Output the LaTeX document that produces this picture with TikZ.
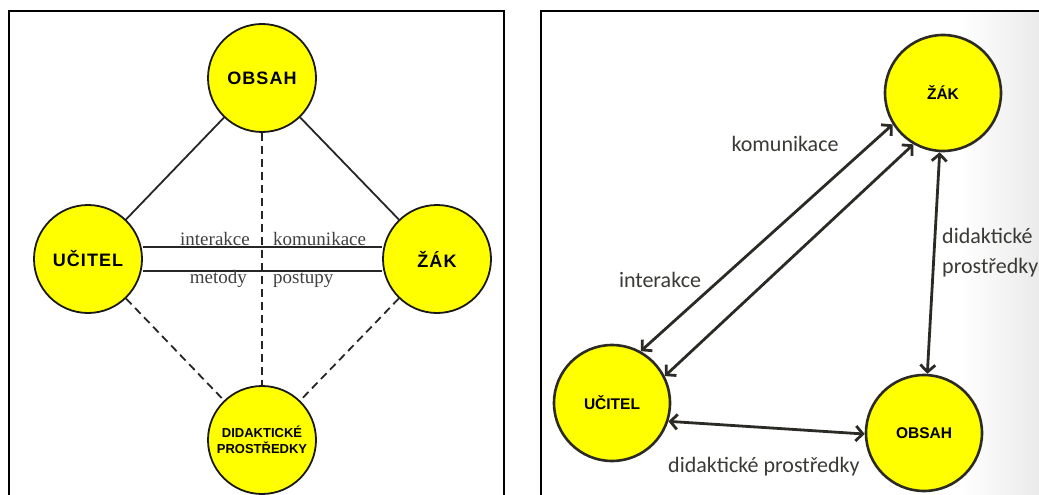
\documentclass[tikz,border=0pt]{standalone}
\usepackage{fontspec}
\setmainfont{Liberation Serif}
\newfontfamily\arialfont{Liberation Sans}
\newfontfamily\arialwide[LetterSpace=6]{Liberation Sans}
\newfontfamily\calibrifont{Carlito}
\usetikzlibrary{arrows.meta,backgrounds}
\definecolor{myYellow}{HTML}{FFFF00}
\definecolor{myDark}{HTML}{2B2A24}
\definecolor{myText}{HTML}{3A3A36}
\tikzset{
    role/.style={draw=black!90,fill=myYellow,circle,line width=1.8pt,inner sep=0pt,
        minimum size=108pt,font=\arialwide\bfseries\fontsize{18}{18}\selectfont},
    roleR/.style={role,draw=myDark,line width=2.6pt,minimum size=116pt,
        font=\arialfont\bfseries\fontsize{15.5}{16}\selectfont},
    link/.style={line width=1.8pt,draw=black!85},
    dashlink/.style={link,dash pattern=on 8pt off 5pt},
    twoway/.style={draw=myDark,line width=2.8pt,
        {Straight Barb[length=7pt,width=15pt]}-{Straight Barb[length=7pt,width=15pt]}},
    serifLabel/.style={font=\fontsize{19}{19}\selectfont,inner sep=0pt,text=black!75},
    sansLabel/.style={font=\calibrifont\fontsize{22}{30}\selectfont,text=myText,inner sep=0pt},
}
\begin{document}
\begin{tikzpicture}[x=1pt,y=-1pt]
    \useasboundingbox (0,0) rectangle (1039,495);
    % shadow at the right edge
    \shade[left color=white,right color=black!8] (960,12) rectangle (1039,495);

    % panel frames
    \draw[line width=1.6pt] (9,495) -- (9,11) -- (504,11) -- (504,495);
    \draw[line width=1.6pt] (541,495) -- (541,11) -- (1039,11);

    % left panel: circles
    \node[role] (obsL) at (262,78) {OBSAH};
    \node[role] (ucL) at (88,259) {UČITEL};
    \node[role] (zakL) at (437,259) {ŽÁK};
    \node[role,align=center,font=\arialfont\bfseries\fontsize{13}{16}\selectfont] (didL) at (262,440) {DIDAKTICKÉ\\PROSTŘEDKY};

    % left panel: connectors behind the circles
    \begin{scope}[on background layer]
        \draw[link] (obsL) -- (ucL);
        \draw[link] (obsL) -- (zakL);
        \draw[link,double distance=22pt] (ucL) -- (zakL);
        \draw[dashlink] (ucL) -- (didL);
        \draw[dashlink] (zakL) -- (didL);
        \draw[dashlink] (obsL) -- (didL);
    \end{scope}

    % left panel: labels on the double line
    \node[serifLabel,anchor=base east] (lblInterL) at (250,245) {interakce};
    \node[serifLabel,anchor=base west] (lblKomL) at (273,245) {komunikace};
    \node[serifLabel,anchor=base east] (lblMetL) at (247,283) {metody};
    \node[serifLabel,anchor=base west] (lblPostL) at (273,283) {postupy};

    % right panel: circles
    \node[roleR] (zakR) at (943,93) {ŽÁK};
    \node[roleR] (ucR) at (612,403) {UČITEL};
    \node[roleR] (obsR) at (924,433) {OBSAH};

    % right panel: arrows
    \draw[twoway] (ucR.61) -- (zakR.212);
    \draw[twoway] (ucR.27) -- (zakR.240);
    \draw[twoway] (zakR) -- (obsR);
    \draw[twoway] (ucR.-18) -- (obsR.181);

    % right panel: labels
    \node[sansLabel,anchor=base] (lblKomR) at (785,151) {komunikace};
    \node[sansLabel,anchor=base] (lblInterR) at (660,287) {interakce};
    \node[sansLabel,anchor=base west] (lblDid1R) at (942,243) {didaktické};
    \node[sansLabel,anchor=base west] (lblDid2R) at (942,273) {prostředky};
    \node[sansLabel,anchor=base west] (lblDidR) at (668,472) {didaktické prostředky};
\end{tikzpicture}
\end{document}
